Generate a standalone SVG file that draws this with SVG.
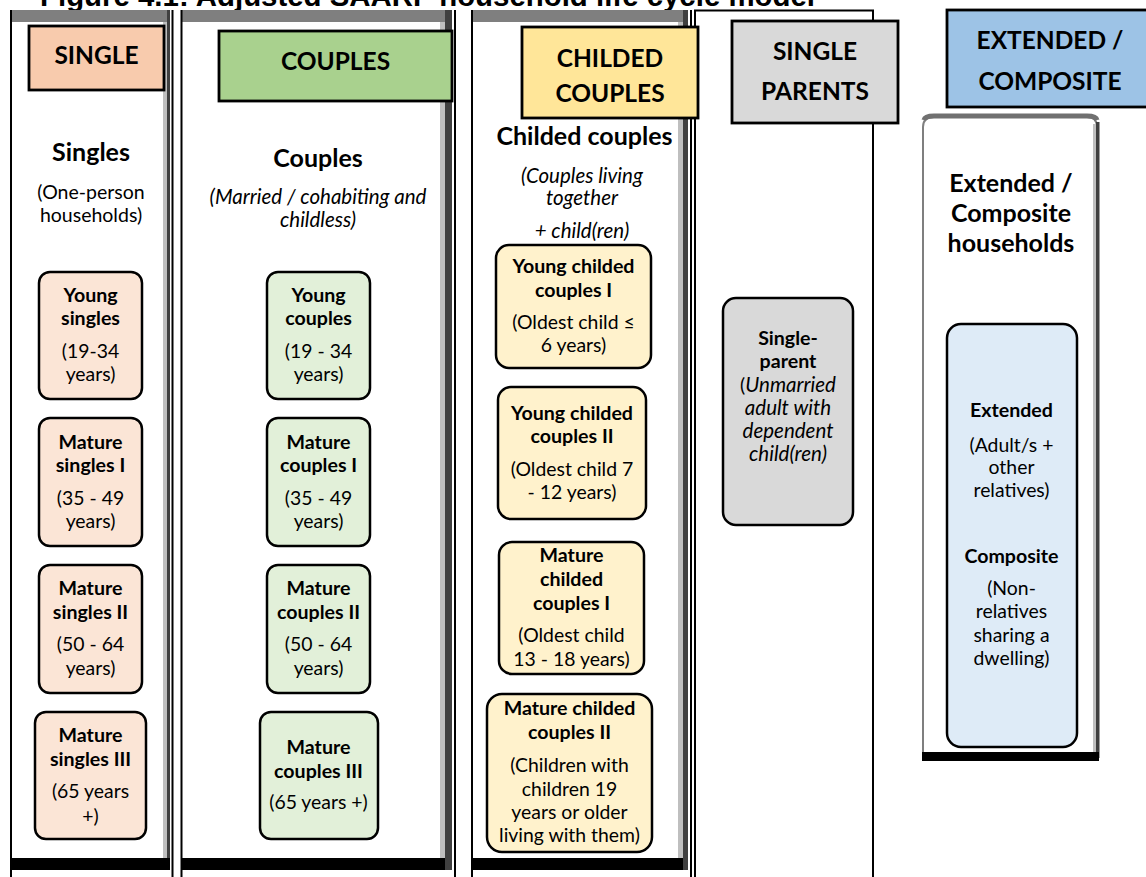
<svg xmlns="http://www.w3.org/2000/svg" width="1146" height="877" viewBox="0 0 1146 877">
<style>
text{font-family:Lato,"Liberation Sans",sans-serif;fill:#000;text-anchor:middle}
.hd{font-size:24.5px;font-weight:bold}
.sub{font-size:25px;font-weight:bold}
.desc{font-size:19.5px}
.desc.it{font-size:20.5px}
.it{font-style:italic}
.nb{font-size:19.6px;font-weight:bold}
.nr{font-size:19.4px}
.nr.it,.nr .it{font-size:20.5px}
.hbox{stroke:#000;stroke-width:2.8}
.node{stroke:#000;stroke-width:2.5}
.band{fill:#7f7f7f}
.lt{fill:#bfbfbf}
.dk{fill:#404040}
.bar{fill:#000}
.ln{stroke:#000;stroke-width:2;fill:none}
.s{fill:#FBE5D6}.c{fill:#E2F0D9}.cc{fill:#FFF2CC}.sp{fill:#D9D9D9}.ex{fill:#DEEBF7}
</style>
<rect x="0" y="0" width="1146" height="877" fill="#fff"/>
<text x="40" y="6" style="font-family:'Liberation Sans',Arial,sans-serif;font-weight:bold;font-size:29px;text-anchor:start" textLength="775" lengthAdjust="spacingAndGlyphs">Figure 4.1: Adjusted SAARF household life cycle model</text>

<g id="panels">
  <!-- Column A -->
  <rect x="11" y="10" width="159" height="860" fill="#fff"/>
  <rect class="band" x="11" y="10" width="159" height="12"/>
  <rect class="lt" x="163" y="22" width="4" height="836"/>
  <rect class="dk" x="167" y="10" width="3" height="860"/>
  <rect class="bar" x="11" y="858" width="159" height="12"/>
  <line class="ln" x1="11" y1="10" x2="11" y2="877" stroke-width="2.5"/>
  <line class="ln" x1="172.5" y1="10" x2="172.5" y2="877" stroke-width="1.6"/>
  <!-- Column B -->
  <rect x="182" y="10" width="270" height="860" fill="#fff"/>
  <rect class="band" x="182" y="10" width="265" height="12"/>
  <rect class="lt" x="440" y="22" width="5" height="836"/>
  <rect class="dk" x="445" y="10" width="7" height="860"/>
  <rect class="bar" x="182" y="858" width="263" height="12"/>
  <line class="ln" x1="181.5" y1="10" x2="181.5" y2="877" stroke-width="3"/>
  <line class="ln" x1="455" y1="10" x2="455" y2="877" stroke-width="2.5"/>
  <!-- Column C -->
  <rect x="472" y="10" width="216" height="860" fill="#fff"/>
  <rect class="band" x="472" y="10" width="211" height="12"/>
  <rect class="lt" x="678" y="22" width="5" height="836"/>
  <rect class="dk" x="683" y="10" width="5" height="860"/>
  <rect class="bar" x="472" y="858" width="211" height="12"/>
  <line class="ln" x1="472" y1="10" x2="472" y2="877" stroke-width="3"/>
  <line class="ln" x1="691" y1="10" x2="691" y2="877" stroke-width="2"/>
  <!-- Column D -->
  <path class="ln" d="M695,877 V10.5 H873 V877"/>
  <!-- Column E -->
  <path d="M922,760 V127 Q922,115 934,115 H1087 Q1099,115 1099,127 V760 Z" fill="#fff"/>
  <path d="M923,760 V127 Q923,117 934,117 H1087 Q1097,117 1097,127" fill="none" stroke="#7f7f7f" stroke-width="2"/>
  <path d="M924,120 Q925,116 934,116 H1087 Q1096,116 1097,120" fill="none" stroke="#707070" stroke-width="5"/>
  <rect class="lt" x="1093" y="124" width="3" height="630"/>
  <rect class="dk" x="1096" y="122" width="3.5" height="636"/>
  <rect class="bar" x="922" y="752" width="177" height="9"/>
</g>

<g id="hdr-single">
  <rect class="hbox" x="29" y="26" width="135" height="64" fill="#F8CBAD"/>
  <text class="hd" x="96.5" y="64">SINGLE</text>
</g>
<g id="hdr-couples">
  <rect class="hbox" x="219" y="31" width="233" height="70" fill="#A9D18E"/>
  <text class="hd" x="335.5" y="70">COUPLES</text>
</g>
<g id="hdr-childed">
  <rect class="hbox" x="522" y="27" width="176" height="91" fill="#FFE699"/>
  <text class="hd" x="610" y="67">CHILDED</text>
  <text class="hd" x="610" y="102">COUPLES</text>
</g>
<g id="hdr-singleparents">
  <rect class="hbox" x="732" y="21" width="166" height="102" fill="#D9D9D9"/>
  <text class="hd" x="815" y="60">SINGLE</text>
  <text class="hd" x="815" y="100">PARENTS</text>
</g>
<g id="hdr-extended">
  <rect class="hbox" x="947" y="10" width="210" height="97" fill="#9DC3E6"/>
  <text class="hd" x="1050" y="49">EXTENDED /</text>
  <text class="hd" x="1050" y="90">COMPOSITE</text>
</g>

<g id="sub-singles">
  <text class="sub" x="91" y="161">Singles</text>
  <text class="desc" x="91" y="199">(One-person</text>
  <text class="desc" x="91" y="222">households)</text>
</g>
<g id="sub-couples">
  <text class="sub" x="318" y="167">Couples</text>
  <text class="desc it" x="318" y="204">(Married / cohabiting and</text>
  <text class="desc it" x="318" y="227">childless)</text>
</g>
<g id="sub-childed">
  <text class="sub" x="584.5" y="145">Childed couples</text>
  <text class="desc it" x="582" y="183">(Couples living</text>
  <text class="desc it" x="582" y="205">together</text>
  <text class="desc it" x="582" y="238">+ child(ren)</text>
</g>
<g id="sub-extended">
  <text class="sub" x="1011" y="192">Extended /</text>
  <text class="sub" x="1011" y="222">Composite</text>
  <text class="sub" x="1011" y="252">households</text>
</g>

<g id="young-singles">
  <rect class="node s" x="39" y="272" width="103" height="127" rx="11"/>
  <text class="nb" x="90.5" y="302">Young</text>
  <text class="nb" x="90.5" y="325">singles</text>
  <text class="nr" x="90.5" y="358">(19-34</text>
  <text class="nr" x="90.5" y="381">years)</text>
</g>
<g id="mature-singles-1">
  <rect class="node s" x="39" y="418" width="103" height="128" rx="11"/>
  <text class="nb" x="90.5" y="449">Mature</text>
  <text class="nb" x="90.5" y="472">singles I</text>
  <text class="nr" x="90.5" y="505">(35 - 49</text>
  <text class="nr" x="90.5" y="528">years)</text>
</g>
<g id="mature-singles-2">
  <rect class="node s" x="39" y="565" width="103" height="128" rx="11"/>
  <text class="nb" x="90.5" y="595">Mature</text>
  <text class="nb" x="90.5" y="619">singles II</text>
  <text class="nr" x="90.5" y="651">(50 - 64</text>
  <text class="nr" x="90.5" y="675">years)</text>
</g>
<g id="mature-singles-3">
  <rect class="node s" x="35" y="712" width="111" height="127" rx="11"/>
  <text class="nb" x="90.5" y="742">Mature</text>
  <text class="nb" x="90.5" y="766">singles III</text>
  <text class="nr" x="90.5" y="798">(65 years</text>
  <text class="nr" x="90.5" y="823">+)</text>
</g>

<g id="young-couples">
  <rect class="node c" x="267" y="272" width="103" height="127" rx="11"/>
  <text class="nb" x="318.5" y="302">Young</text>
  <text class="nb" x="318.5" y="325">couples</text>
  <text class="nr" x="318.5" y="358">(19 - 34</text>
  <text class="nr" x="318.5" y="381">years)</text>
</g>
<g id="mature-couples-1">
  <rect class="node c" x="267" y="418" width="103" height="128" rx="11"/>
  <text class="nb" x="318.5" y="449">Mature</text>
  <text class="nb" x="318.5" y="472">couples I</text>
  <text class="nr" x="318.5" y="505">(35 - 49</text>
  <text class="nr" x="318.5" y="528">years)</text>
</g>
<g id="mature-couples-2">
  <rect class="node c" x="267" y="565" width="103" height="128" rx="11"/>
  <text class="nb" x="318.5" y="595">Mature</text>
  <text class="nb" x="318.5" y="619">couples II</text>
  <text class="nr" x="318.5" y="651">(50 - 64</text>
  <text class="nr" x="318.5" y="675">years)</text>
</g>
<g id="mature-couples-3">
  <rect class="node c" x="260" y="712" width="118" height="127" rx="11"/>
  <text class="nb" x="318.5" y="754">Mature</text>
  <text class="nb" x="318.5" y="778">couples III</text>
  <text class="nr" x="318.5" y="809">(65 years +)</text>
</g>

<g id="young-childed-1">
  <rect class="node cc" x="496" y="245" width="155" height="123" rx="13"/>
  <text class="nb" x="573.5" y="273">Young childed</text>
  <text class="nb" x="573.5" y="297">couples I</text>
  <text class="nr" x="573.5" y="329" fill="#222">(Oldest child ≤</text>
  <text class="nr" x="573.5" y="352" fill="#222">6 years)</text>
</g>
<g id="young-childed-2">
  <rect class="node cc" x="498" y="387" width="148" height="132" rx="13"/>
  <text class="nb" x="572" y="420">Young childed</text>
  <text class="nb" x="572" y="443">couples II</text>
  <text class="nr" x="572" y="476">(Oldest child 7</text>
  <text class="nr" x="572" y="499">- 12 years)</text>
</g>
<g id="mature-childed-1">
  <rect class="node cc" x="499" y="542" width="145" height="132" rx="13"/>
  <text class="nb" x="571.5" y="562">Mature</text>
  <text class="nb" x="571.5" y="586">childed</text>
  <text class="nb" x="571.5" y="610">couples I</text>
  <text class="nr" x="571.5" y="642">(Oldest child</text>
  <text class="nr" x="571.5" y="666">13 - 18 years)</text>
</g>
<g id="mature-childed-2">
  <rect class="node cc" x="487" y="694" width="165" height="158" rx="15"/>
  <text class="nb" x="569.5" y="715">Mature childed</text>
  <text class="nb" x="569.5" y="739">couples II</text>
  <text class="nr" x="569.5" y="772">(Children with</text>
  <text class="nr" x="569.5" y="796">children 19</text>
  <text class="nr" x="569.5" y="819">years or older</text>
  <text class="nr" x="569.5" y="842">living with them)</text>
</g>

<g id="single-parent">
  <rect class="node sp" x="723" y="298" width="130" height="227" rx="13"/>
  <text class="nb" x="788" y="345">Single-</text>
  <text class="nb" x="788" y="368">parent</text>
  <text class="nr" x="788" y="392">(<tspan class="it">Unmarried</tspan></text>
  <text class="nr it" x="788" y="415">adult with</text>
  <text class="nr it" x="788" y="438">dependent</text>
  <text class="nr it" x="788" y="461">child(ren)</text>
</g>

<g id="extended-composite">
  <rect class="node ex" x="947" y="324" width="130" height="423" rx="14"/>
  <text class="nb" x="1011.5" y="417">Extended</text>
  <text class="nr" x="1011.5" y="452">(Adult/s +</text>
  <text class="nr" x="1011.5" y="474">other</text>
  <text class="nr" x="1011.5" y="497">relatives)</text>
  <text class="nb" x="1011.5" y="563">Composite</text>
  <text class="nr" x="1011.5" y="595">(Non-</text>
  <text class="nr" x="1011.5" y="618">relatives</text>
  <text class="nr" x="1011.5" y="642">sharing a</text>
  <text class="nr" x="1011.5" y="665">dwelling)</text>
</g>

<g id="connectors"></g>
</svg>
